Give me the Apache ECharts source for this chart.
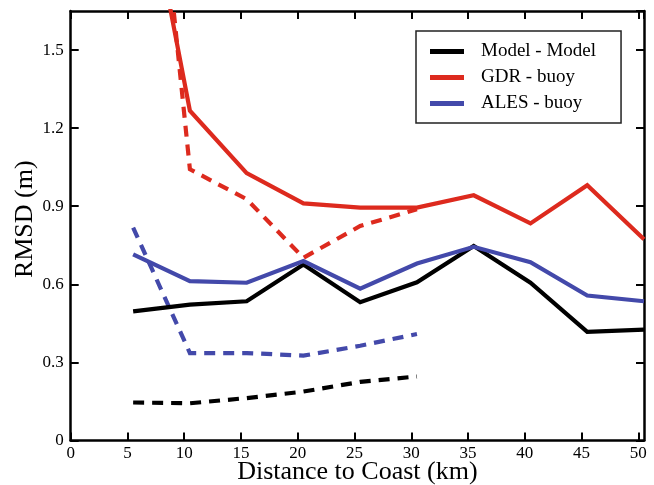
<!DOCTYPE html>
<html>
<head>
<meta charset="utf-8">
<script src="https://cdn.jsdelivr.net/npm/echarts@6/dist/echarts.min.js"></script>
<style>
  html, body { margin: 0; padding: 0; background: #fff; }
  #chart { width: 654px; height: 485px; }
</style>
</head>
<body>
<div id="chart"></div>
<script>
// Distance bins (km) for the full transect and for the near-coast subset
const distAll = [5.5, 10.5, 15.5, 20.5, 25.5, 30.5, 35.5, 40.5, 45.5, 50.5];
const distNear = [5.5, 10.5, 15.5, 20.5, 25.5, 30.5];

// RMSD (m), solid curves
const modelModel = [0.496, 0.522, 0.535, 0.676, 0.531, 0.608, 0.747, 0.606, 0.417, 0.426];
const gdrBuoy = [2.40, 1.267, 1.027, 0.911, 0.895, 0.895, 0.942, 0.834, 0.981, 0.773];
const alesBuoy = [0.715, 0.612, 0.606, 0.689, 0.583, 0.680, 0.744, 0.685, 0.557, 0.535];

// RMSD (m), dashed curves
const modelModelNear = [0.146, 0.143, 0.163, 0.188, 0.225, 0.246];
const gdrBuoyNear = [3.17, 1.042, 0.927, 0.702, 0.824, 0.888];
const alesBuoyNear = [0.818, 0.336, 0.336, 0.326, 0.364, 0.409];

const seriesNames = ['Model - Model', 'GDR - buoy', 'ALES - buoy'];
const xTicks = { min: 0, max: 50.5, interval: 5 };
const yTicks = { min: 0, max: 1.65, interval: 0.3 };

const BLACK = '#000000';
const RED = '#dd2a1e';
const BLUE = '#4349aa';
const FONT = 'Liberation Serif';
const DASH = [11, 8];

const pairs = (xs, ys) => xs.map((x, i) => [x, ys[i]]);

function lineSeries(name, xs, ys, color, dashed) {
  return {
    name: name,
    type: 'line',
    data: pairs(xs, ys),
    showSymbol: false,
    symbol: 'none',
    clip: true,
    silent: true,
    z: dashed ? 3 : 4,
    lineStyle: { color: color, width: 4.2, type: dashed ? DASH : 'solid', cap: 'butt', join: 'miter' },
    itemStyle: { color: color }
  };
}

const axisLine = { show: true, onZero: false, lineStyle: { color: '#000', width: 2.5 } };
const tickIn = { show: true, inside: true, length: 8, lineStyle: { color: '#000', width: 2 } };

const chart = echarts.init(document.getElementById('chart'), null, { renderer: 'canvas' });
chart.setOption({
  animation: false,
  backgroundColor: '#fff',
  grid: { left: 70.7, right: 10, top: 11, bottom: 44.5, containLabel: false, outerBoundsMode: 'none' },
  legend: {
    data: seriesNames,
    orient: 'vertical',
    left: 416,
    top: 31,
    padding: [11, 25, 10, 14],
    itemGap: 7,
    itemWidth: 34,
    itemHeight: 5,
    icon: 'rect',
    borderColor: '#222',
    borderWidth: 1.5,
    backgroundColor: '#fff',
    selectedMode: false,
    textStyle: { fontFamily: FONT, fontSize: 19, color: '#000', padding: [0, 0, 0, 12] }
  },
  xAxis: [
    {
      type: 'value',
      position: 'bottom',
      min: xTicks.min, max: xTicks.max, interval: xTicks.interval,
      name: 'Distance to Coast (km)',
      nameLocation: 'middle',
      nameGap: 19,
      nameMoveOverlap: false,
      nameTextStyle: { fontFamily: FONT, fontSize: 26, color: '#000' },
      axisLine: axisLine,
      axisTick: tickIn,
      axisLabel: { fontFamily: FONT, fontSize: 17, color: '#000', margin: 5, showMaxLabel: false },
      splitLine: { show: false }
    },
    {
      type: 'value',
      position: 'top',
      min: xTicks.min, max: xTicks.max, interval: xTicks.interval,
      axisLine: axisLine,
      axisTick: tickIn,
      axisLabel: { show: false },
      splitLine: { show: false }
    }
  ],
  yAxis: [
    {
      type: 'value',
      position: 'left',
      min: yTicks.min, max: yTicks.max, interval: yTicks.interval,
      name: 'RMSD (m)',
      nameLocation: 'middle',
      nameGap: 33,
      nameMoveOverlap: false,
      nameTextStyle: { fontFamily: FONT, fontSize: 26, color: '#000', padding: [0, 0, 0, 13] },
      axisLine: axisLine,
      axisTick: tickIn,
      axisLabel: {
        fontFamily: FONT, fontSize: 17, color: '#000', margin: 7, showMaxLabel: false,
        formatter: v => (v === 0 ? '0' : v.toFixed(1))
      },
      splitLine: { show: false }
    },
    {
      type: 'value',
      position: 'right',
      min: yTicks.min, max: yTicks.max, interval: yTicks.interval,
      axisLine: axisLine,
      axisTick: tickIn,
      axisLabel: { show: false },
      splitLine: { show: false }
    }
  ],
  series: [
    lineSeries(seriesNames[0], distAll, modelModel, BLACK, false),
    lineSeries(seriesNames[1], distAll, gdrBuoy, RED, false),
    lineSeries(seriesNames[2], distAll, alesBuoy, BLUE, false),
    lineSeries('Model - Model (near coast)', distNear, modelModelNear, BLACK, true),
    lineSeries('GDR - buoy (near coast)', distNear, gdrBuoyNear, RED, true),
    lineSeries('ALES - buoy (near coast)', distNear, alesBuoyNear, BLUE, true)
  ]
});
</script>
</body>
</html>
